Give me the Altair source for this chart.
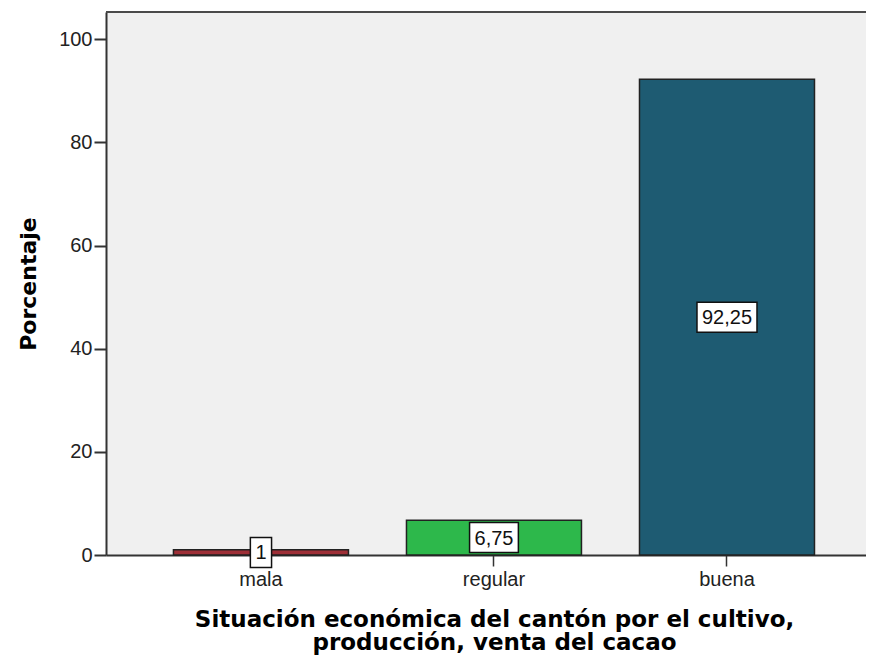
import altair as alt
import pandas as pd

categories = ["mala", "regular", "buena"]
values = [1.0, 6.75, 92.25]
value_labels = ["1", "6,75", "92,25"]
bar_colors = ["#9e2f37", "#2db84b", "#1e5b72"]
y_ticks = [0, 20, 40, 60, 80, 100]
x_title = ["Situación económica del cantón por el cultivo,", "producción, venta del cacao"]
y_title = "Porcentaje"

df = pd.DataFrame({"cat": categories, "val": values, "lab": value_labels})
df["mid"] = df["val"] / 2

W, H = 760, 543


def box_path(label):
    w = sum(5.6 if ch == "," else 11.1 for ch in label) + 10
    h = 30
    return f"M{-w/2:.1f},{-h/2}H{w/2:.1f}V{h/2}H{-w/2:.1f}Z"


box_paths = [box_path(l) for l in value_labels]

x_scale = alt.Scale(domain=categories, paddingInner=0.249, paddingOuter=0.2553, align=0.567)
y_scale = alt.Scale(domain=[0, 105.3], nice=False, zero=True)

x_axis = alt.Axis(
    title=x_title, labelAngle=0, tickSize=11, tickWidth=1.5, tickColor="#333",
    labelPadding=3, labelFont="Liberation Sans", labelFontSize=20, labelColor="#222",
    domainColor="#333", domainWidth=2,
    titleFont="DejaVu Sans", titleFontSize=23, titleFontWeight="bold",
    titleLineHeight=23, titlePadding=19, titleColor="#000", titleX=388,
)
y_axis = alt.Axis(
    title=y_title, values=y_ticks, grid=False, tickSize=12, tickWidth=2, tickColor="#333",
    labelPadding=2, labelFont="Liberation Sans", labelFontSize=20, labelColor="#222",
    domainColor="#333", domainWidth=2,
    titleFont="DejaVu Sans", titleFontSize=22, titleFontWeight="bold", titleColor="#000",
    titleX=-78, titleY=H / 2, titleBaseline="middle", titleAlign="center",
)

X = alt.X("cat:N", scale=x_scale, axis=x_axis, sort=categories)

frame_top = alt.Chart(pd.DataFrame({"a": [0]})).mark_rule(color="#4a4a4a", strokeWidth=2).encode(
    x=alt.value(0), x2=alt.value(W), y=alt.value(0)
)

bars = alt.Chart(df).mark_bar(stroke="#222", strokeWidth=1.5).encode(
    x=X,
    y=alt.Y("val:Q", scale=y_scale, axis=y_axis),
    color=alt.Color("cat:N", scale=alt.Scale(domain=categories, range=bar_colors), legend=None),
)

boxes = alt.Chart(df).mark_point(
    filled=True, fill="white", stroke="#111", strokeWidth=1.5, size=4, opacity=1
).encode(
    x=X,
    y=alt.Y("mid:Q", scale=y_scale, axis=y_axis),
    shape=alt.Shape("cat:N", scale=alt.Scale(domain=categories, range=box_paths), legend=None),
)

texts = alt.Chart(df).mark_text(
    font="Liberation Sans", fontSize=20, baseline="middle", align="center", color="#111", dy=1
).encode(
    x=X,
    y=alt.Y("mid:Q", scale=y_scale, axis=y_axis),
    text="lab:N",
)

chart = alt.layer(frame_top, bars, boxes, texts).properties(
    width=W, height=H,
    autosize=alt.AutoSizeParams(type="none"),
    padding={"left": 98, "top": 4, "right": 0, "bottom": 102},
).configure_view(strokeWidth=0, fill="#f0f0f0")

chart.save("out.html", embed_options={"renderer": "svg", "actions": False})
